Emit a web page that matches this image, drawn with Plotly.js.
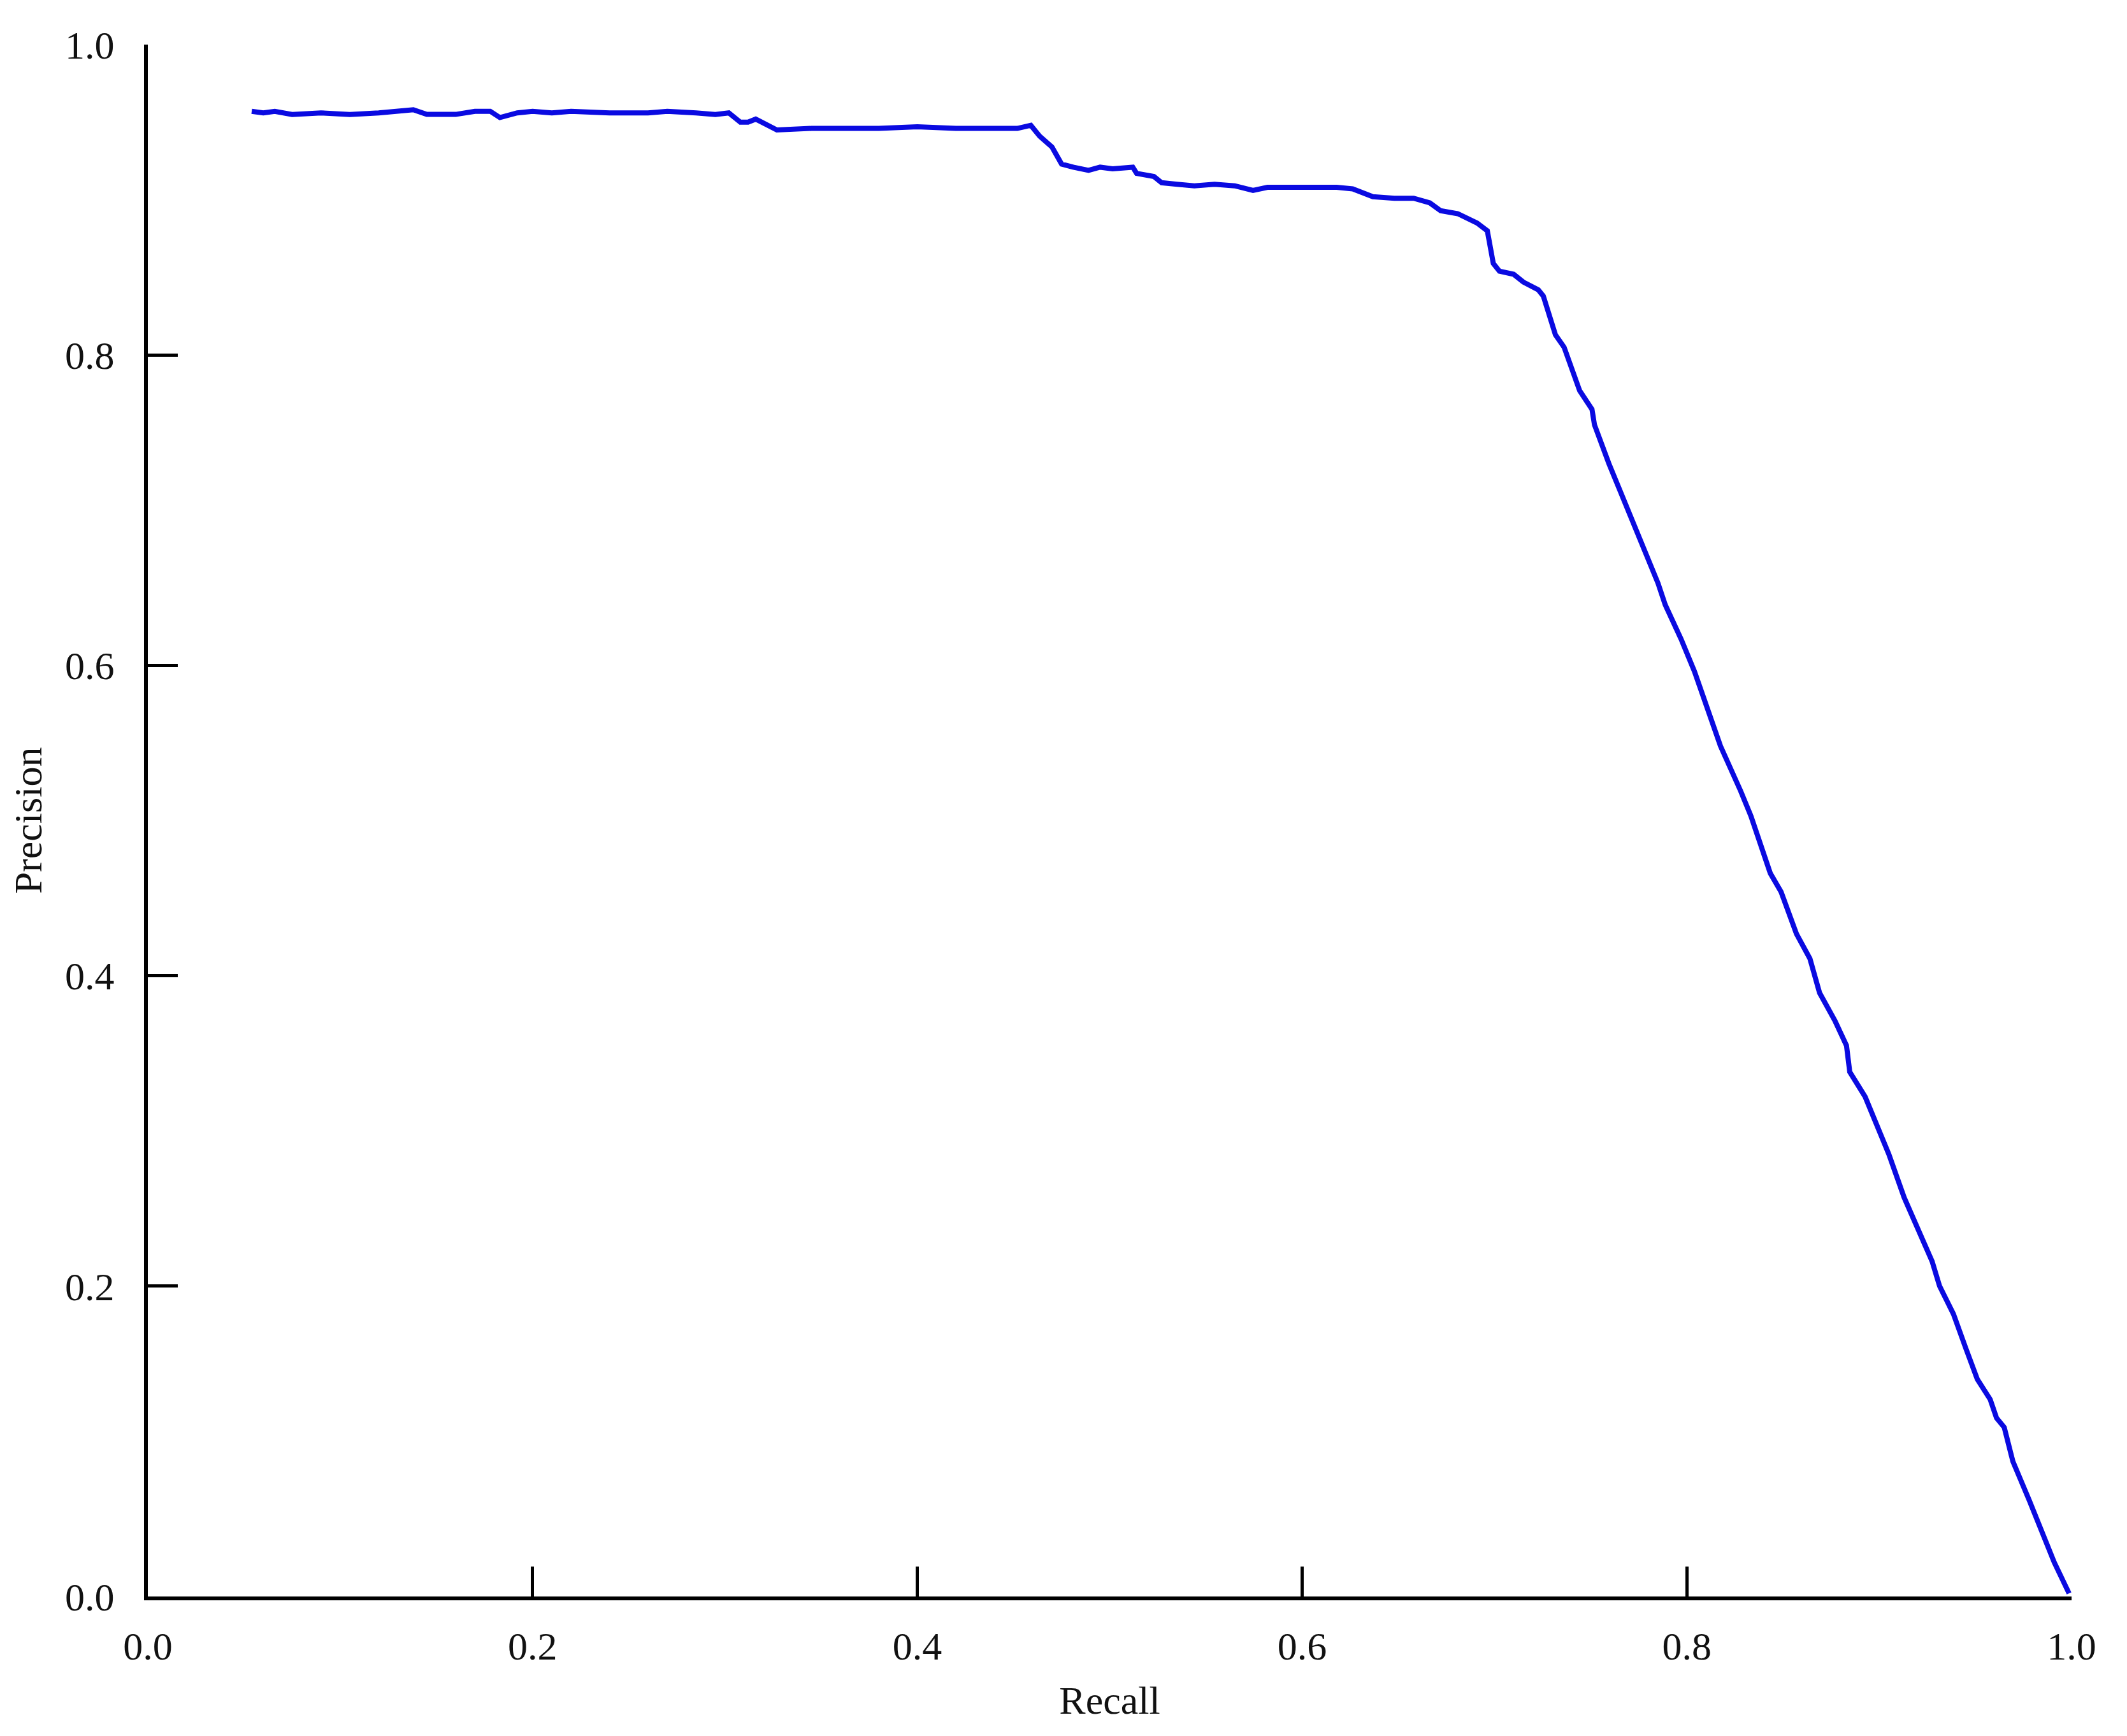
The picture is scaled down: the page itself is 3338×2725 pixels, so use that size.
<!DOCTYPE html>
<html>
<head>
<meta charset="utf-8">
<script src="https://cdn.plot.ly/plotly-3.0.1.min.js"></script>
<style>
  html, body { margin: 0; padding: 0; background: #fff; }
  #chart { width: 3338px; height: 2725px; }
</style>
</head>
<body>
<div id="chart"></div>
<script>
// precision-recall curve, values
var recall = [
    0.054, 0.060, 0.066, 0.075, 0.090, 0.105, 0.120, 0.130, 0.138, 0.145,
    0.160, 0.170, 0.178, 0.183, 0.192, 0.200, 0.210, 0.220, 0.240, 0.260,
    0.270, 0.285, 0.295, 0.302, 0.308, 0.312, 0.316, 0.327, 0.345, 0.360,
    0.380, 0.400, 0.420, 0.440, 0.452, 0.459, 0.4636, 0.470, 0.475, 0.481,
    0.489, 0.495, 0.5015, 0.512, 0.514, 0.523, 0.527, 0.535, 0.544, 0.5545,
    0.565, 0.5745, 0.582, 0.595, 0.607, 0.618, 0.6263, 0.6368, 0.648, 0.658,
    0.6664, 0.672, 0.681, 0.691, 0.6963, 0.698, 0.6994, 0.7026, 0.710, 0.715,
    0.7228, 0.7254, 0.7317, 0.7362, 0.7393, 0.7443, 0.7507, 0.752, 0.7595, 0.7647,
    0.771, 0.7786, 0.785, 0.7888, 0.797, 0.804, 0.810, 0.8175, 0.828, 0.8333,
    0.8434, 0.849, 0.857, 0.864, 0.869, 0.877, 0.883, 0.8847, 0.8927, 0.899,
    0.905, 0.913, 0.9205, 0.9275, 0.9314, 0.9386, 0.945, 0.951, 0.9577, 0.961,
    0.965, 0.9695, 0.978, 0.9845, 0.991, 0.9987
];
var precision = [
    0.957, 0.956, 0.957, 0.955, 0.956, 0.955, 0.956, 0.957, 0.958, 0.955,
    0.955, 0.957, 0.957, 0.953, 0.956, 0.957, 0.956, 0.957, 0.956, 0.956,
    0.957, 0.956, 0.955, 0.956, 0.950, 0.950, 0.952, 0.945, 0.946, 0.946,
    0.946, 0.947, 0.946, 0.946, 0.946, 0.948, 0.941, 0.934, 0.923, 0.921,
    0.919, 0.921, 0.920, 0.921, 0.917, 0.915, 0.911, 0.910, 0.909, 0.910,
    0.909, 0.906, 0.908, 0.908, 0.908, 0.908, 0.907, 0.902, 0.901, 0.901,
    0.898, 0.893, 0.891, 0.885, 0.880, 0.870, 0.859, 0.854, 0.852, 0.847,
    0.842, 0.838, 0.813, 0.805, 0.794, 0.777, 0.765, 0.755, 0.730, 0.714,
    0.695, 0.671, 0.653, 0.639, 0.617, 0.596, 0.574, 0.548, 0.519, 0.503,
    0.466, 0.454, 0.427, 0.411, 0.389, 0.371, 0.355, 0.338, 0.322, 0.302,
    0.285, 0.257, 0.235, 0.216, 0.200, 0.182, 0.160, 0.140, 0.127, 0.115,
    0.109, 0.087, 0.062, 0.042, 0.022, 0.002
];
var tickVals = [0, 0.2, 0.4, 0.6, 0.8, 1.0];

var font = { family: 'Liberation Serif, Times New Roman, serif', size: 62, color: '#111' };

var trace = [
    {
        x: recall,
        y: precision,
        type: 'scatter',
        mode: 'lines',
        line: { color: 'rgb(10,10,225)', width: 8 }
    }
];

var layout = {
    width: 3338,
    height: 2725,
    margin: { l: 232, r: 87, t: 70, b: 219 },
    paper_bgcolor: '#fff',
    plot_bgcolor: '#fff',
    showlegend: false,
    font: font,
    xaxis: {
        title: { text: 'Recall', font: font, standoff: 31 },
        range: [0, 1],
        tickvals: tickVals,
        tickformat: '.1f',
        ticks: 'inside',
        ticklen: 47,
        tickwidth: 5,
        tickcolor: '#000',
        ticklabelstandoff: 19,
        showline: true,
        linecolor: '#000',
        linewidth: 6,
        showgrid: false,
        zeroline: false,
        automargin: false
    },
    yaxis: {
        title: { text: 'Precision', font: font, standoff: 18 },
        range: [0, 1],
        tickvals: tickVals,
        tickformat: '.1f',
        ticks: 'inside',
        ticklen: 47,
        tickwidth: 5,
        tickcolor: '#000',
        ticklabelstandoff: 34,
        showline: true,
        linecolor: '#000',
        linewidth: 6,
        showgrid: false,
        zeroline: false,
        automargin: false
    }
};

Plotly.newPlot('chart', trace, layout, { staticPlot: true });
</script>
</body>
</html>
